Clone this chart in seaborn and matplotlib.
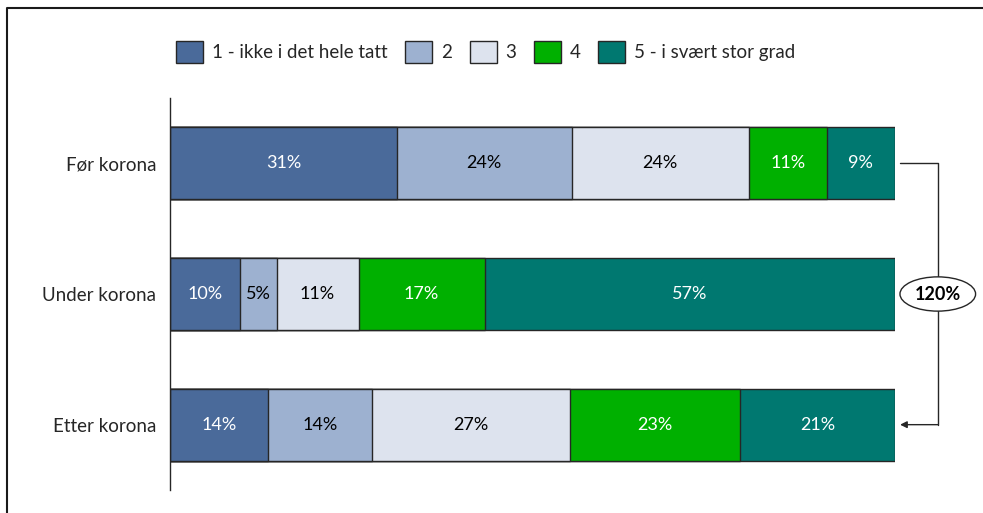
import matplotlib
matplotlib.use("Agg")
import matplotlib.pyplot as plt
from matplotlib.patches import Patch
from matplotlib.lines import Line2D
import numpy as np
import pandas as pd
import seaborn as sns

# Survey periods (rows) and response levels (stacked segments), in percent
periods = ["Før korona", "Under korona", "Etter korona"]
levels = ["1 - ikke i det hele tatt", "2", "3", "4", "5 - i svært stor grad"]
level1 = [31.3, 9.7, 13.5]
level2 = [24.1, 5.0, 14.3]
level3 = [24.4, 11.3, 27.4]
level4 = [10.8, 17.4, 23.4]
level5 = [9.4, 56.6, 21.4]
change_label = "120%"

colors = ["#4A6A9A", "#9DB1D0", "#DDE3EE", "#00B000", "#007870"]
text_colors = ["white", "black", "black", "white", "white"]

sns.set_theme(style="white")
plt.rcParams["font.family"] = ["Lato", "DejaVu Sans"]

series = [level1, level2, level3, level4, level5]
values = np.array(series)            # shape (levels, periods)
cum = np.cumsum(values, axis=0)
start = cum - values

fig = plt.figure(figsize=(9.83, 5.13), dpi=100)
ax = fig.add_axes([170 / 983, 1 - 490 / 513, 725 / 983, 392 / 513])

# Stacked bars: draw cumulative totals from the outermost level inward
for i in range(len(levels) - 1, -1, -1):
    df = pd.DataFrame({"period": periods, "value": cum[i]})
    sns.barplot(data=df, x="value", y="period", orient="h", color=colors[i],
                saturation=1, width=0.55, edgecolor="#262626", linewidth=1.0,
                ax=ax)

# Percent labels centred on each segment
for i in range(len(levels)):
    for j in range(len(periods)):
        ax.text(start[i, j] + values[i, j] / 2, j, f"{values[i, j]:.0f}%",
                ha="center", va="center", fontsize=13, color=text_colors[i])

ax.set_xlim(0, 100)
ax.set_ylim(2.5, -0.5)
ax.set_xlabel("")
ax.set_ylabel("")
ax.set_xticks([])
ax.tick_params(axis="y", length=0, pad=10, labelsize=13.5)
for side in ["top", "right", "bottom"]:
    ax.spines[side].set_visible(False)
ax.spines["left"].set_color("#262626")
ax.spines["left"].set_linewidth(1.0)

# Bracket arrow from the first to the last period, with the change in an ellipse
x0 = 100.7
xb = 105.9
ax.plot([x0, xb, xb], [0, 0, 2], color="#262626", lw=1.0, clip_on=False)
ax.annotate("", xy=(x0, 2), xytext=(xb, 2),
            arrowprops=dict(arrowstyle="-|>", color="#262626", lw=1.0,
                            shrinkA=0, shrinkB=0, mutation_scale=10),
            annotation_clip=False)
ax.text(xb, 1, change_label, ha="center", va="center", fontsize=13,
        fontweight="bold", color="black", clip_on=False,
        bbox=dict(boxstyle="ellipse,pad=0.2", fc="white", ec="#262626", lw=1.0))

# Legend along the top
handles = [Patch(facecolor=c, edgecolor="#262626", linewidth=1.0) for c in colors]
fig.legend(handles, levels, loc="center", bbox_to_anchor=(0.494, 0.899),
           ncol=5, frameon=False, fontsize=13.5, handlelength=1.45,
           handleheight=1.45, handletextpad=0.45, columnspacing=0.95)

# Outer frame (top and left edges)
fig.add_artist(Line2D([7 / 983, 7 / 983, 1.0], [0.0, 1 - 8 / 513, 1 - 8 / 513],
                      transform=fig.transFigure, color="#1a1a1a", lw=1.5))

fig.savefig("out.png", dpi=100)
